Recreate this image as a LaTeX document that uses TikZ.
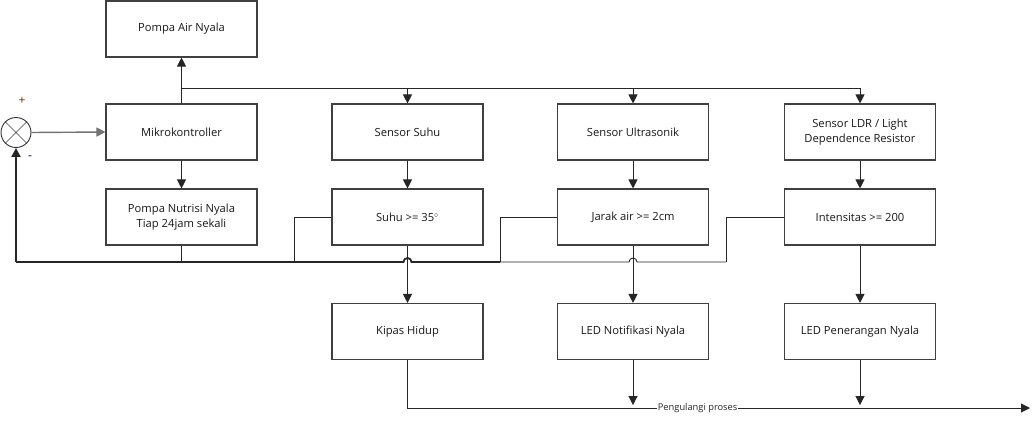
\documentclass[tikz,border=0pt]{standalone}
\usepackage{fontspec}
\setmainfont{Open Sans}
\usetikzlibrary{arrows.meta,calc}
\begin{document}
\begin{tikzpicture}[x=1pt,y=-1pt,
  box/.style={draw=black!75, line width=1.1pt, minimum width=151pt, minimum height=56pt,
    inner sep=2pt, align=center, font=\fontsize{11.2}{15}\selectfont, text=black!90, fill=white},
  arr/.style={-{Triangle[length=9pt,width=9pt]}},
  ln/.style={line width=0.9pt, black!85},
  bus/.style={line width=1.8pt, black!85}]
\useasboundingbox (0,0) rectangle (1035,420);
% boxes
\node[box] (pa) at (181.5,29) {Pompa Air Nyala};
\node[box] (mk) at (181.5,132) {Mikrokontroller};
\node[box] (pn) at (181.5,217) {Pompa Nutrisi Nyala\\Tiap 24jam sekali};
\node[box] (ss) at (407.5,132) {Sensor Suhu};
\node[box] (sh) at (407.5,217) {Suhu >= 35$^\circ$};
\node[box] (kh) at (407.5,331.5) {Kipas Hidup};
\node[box] (su) at (633,132) {Sensor Ultrasonik};
\node[box] (ja) at (633,217) {Jarak air >= 2cm};
\node[box] (lnf) at (633,331.5) {LED Notifikasi Nyala};
\node[box] (sl) at (860,132) {Sensor LDR / Light\\Dependence Resistor};
\node[box] (it) at (860,217) {Intensitas >= 200};
\node[box] (lp) at (860,331.5) {LED Penerangan Nyala};
% summing junction
\node[draw=black!80, line width=0.9pt, circle, minimum size=30pt, inner sep=0pt] (sj) at (16,132.5) {};
\draw[black!75, line width=0.7pt] (sj.north west) -- (sj.south east) (sj.north east) -- (sj.south west);
\node[font=\fontsize{12}{14}\selectfont, text=black!60!orange] (plus) at (22,100.5) {+};
\node[font=\fontsize{12}{14}\selectfont, text=black!60!blue] (minus) at (30,158) {-};
% coordinates
\coordinate (t0) at (181.5,88);
\coordinate (t1) at (407.5,88);
\coordinate (t2) at (633,88);
\coordinate (f0) at (16,262);
\coordinate (fa) at (294,262);
\coordinate (fb) at (500,262);
\coordinate (fc) at (726,262);
\coordinate (pnb) at (181.5,262);
\coordinate (endp) at (1030,408);
% connectors
\draw[ln,arr] (mk.north) -- (pa.south);
\draw[ln,arr] (t0) -| (sl.north);
\draw[ln,arr] (t1) -- (ss.north);
\draw[ln,arr] (t2) -- (su.north);
\draw[ln,arr] (mk.south) -- (pn.north);
\draw[ln,arr] (ss.south) -- (sh.north);
\draw[ln,arr] (su.south) -- (ja.north);
\draw[ln,arr] (sl.south) -- (it.north);
\draw[ln,arr] (sh.south) -- (kh.north);
\draw[ln,arr] (ja.south) -- (lnf.north);
\draw[ln,arr] (it.south) -- (lp.north);
\draw[black!55, line width=1.4pt, arr] (sj.east) -- (mk.west);
% feedback bus
\draw[ln] (it.west) -| (fc);
\draw[ln] (ja.west) -| (fb);
\draw[ln] (sh.west) -| (fa);
\draw[ln] (pn.south) -- (pnb);
\draw[ln] (fc) -- ($(lnf.south |- fc)+(4,0)$) arc[start angle=0,end angle=180,radius=4pt] -- (fb);
\draw[bus] (fb) -- ($(kh.south |- fb)+(4,0)$) arc[start angle=0,end angle=180,radius=4pt] -- (fa) -- (f0);
\draw[bus,arr] (f0) -- (sj.south);
% bottom
\draw[ln,arr] (kh.south) |- node[pos=0.733, fill=white, inner sep=0.5pt, font=\fontsize{9.3}{11}\selectfont] {Pengulangi proses} (endp);
\draw[ln,arr] (lnf.south) -- ($(lnf.south)+(0,45)$);
\draw[ln,arr] (lp.south) -- ($(lp.south)+(0,45)$);
\end{tikzpicture}
\end{document}
